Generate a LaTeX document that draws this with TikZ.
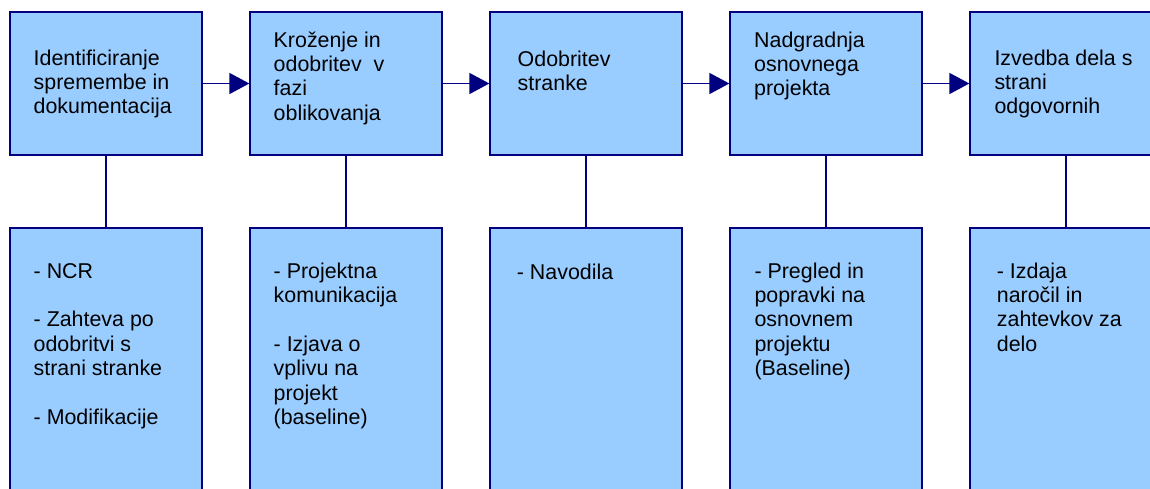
\documentclass[tikz,border=0pt]{standalone}
\usepackage{fontspec}
\setmainfont{Liberation Sans}
\usetikzlibrary{arrows.meta}
\definecolor{boxfill}{HTML}{99CCFF}
\definecolor{navy}{HTML}{000080}
\begin{document}
\begin{tikzpicture}[x=1pt,y=-1pt,
  stage/.style={draw=navy,fill=boxfill,line width=1.3pt,rectangle,inner sep=0pt,
    minimum width=192pt,minimum height=143pt},
  detail/.style={draw=navy,fill=boxfill,line width=1.3pt,rectangle,inner sep=0pt,
    minimum width=192pt,minimum height=292pt},
  % anchored at the baseline of the last line of the text
  txt/.style={anchor=base west,inner sep=0pt,align=left,text=black,
    font=\fontsize{21.4pt}{24.4pt}\selectfont},
  flow/.style={draw=navy,line width=1.5pt,-{Triangle[length=20pt,width=21pt]}},
  link/.style={draw=navy,line width=1.3pt}]
\useasboundingbox (0,0) rectangle (1150,488);
\clip (0,0) rectangle (1150,488);

% upper row: process stages
\node[stage] (s1) at (106,83.5) {};
\node[stage] (s2) at (346,83.5) {};
\node[stage] (s3) at (586,83.5) {};
\node[stage] (s4) at (826,83.5) {};
\node[stage] (s5) at (1066,83.5) {};

% lower row: documents of each stage
\node[detail] (d1) at (106,374) {};
\node[detail] (d2) at (346,374) {};
\node[detail] (d3) at (586,374) {};
\node[detail] (d4) at (826,374) {};
\node[detail] (d5) at (1066,374) {};

% flow between stages
\draw[flow] (s1.east) -- (s2.west);
\draw[flow] (s2.east) -- (s3.west);
\draw[flow] (s3.east) -- (s4.west);
\draw[flow] (s4.east) -- (s5.west);

% stage to its documents
\draw[link] (s1.south) -- (d1.north);
\draw[link] (s2.south) -- (d2.north);
\draw[link] (s3.south) -- (d3.north);
\draw[link] (s4.south) -- (d4.north);
\draw[link] (s5.south) -- (d5.north);

% stage titles
\node[txt] (t1) at (33.5,113.8) {Identificiranje\\spremembe in\\dokumentacija};
\node[txt] (t2) at (273.5,120.2) {Kroženje in\\odobritev\ \ v\\fazi\\oblikovanja};
\node[txt] (t3) at (517.5,90.4) {Odobritev\\stranke};
\node[txt] (t4) at (754,95.8) {Nadgradnja\\osnovnega\\projekta};
\node[txt] (t5) at (994.3,113.8) {Izvedba dela s\\strani\\odgovornih};

% document lists
\node[txt] (l1) at (33.5,424.4) {- NCR\\[24.4pt]- Zahteva po\\odobritvi s\\strani stranke\\[24.4pt]- Modifikacije};
\node[txt] (l2) at (273.5,424.4) {- Projektna\\komunikacija\\[24.4pt]- Izjava o\\vplivu na\\projekt\\(baseline)};
\node[txt] (l3) at (516.7,279.5) {- Navodila};
\node[txt] (l4) at (754.3,375.6) {- Pregled in\\popravki na\\osnovnem\\projektu\\(Baseline)};
\node[txt] (l5) at (996.7,351.2) {- Izdaja\\naročil in\\zahtevkov za\\delo};
\end{tikzpicture}
\end{document}
